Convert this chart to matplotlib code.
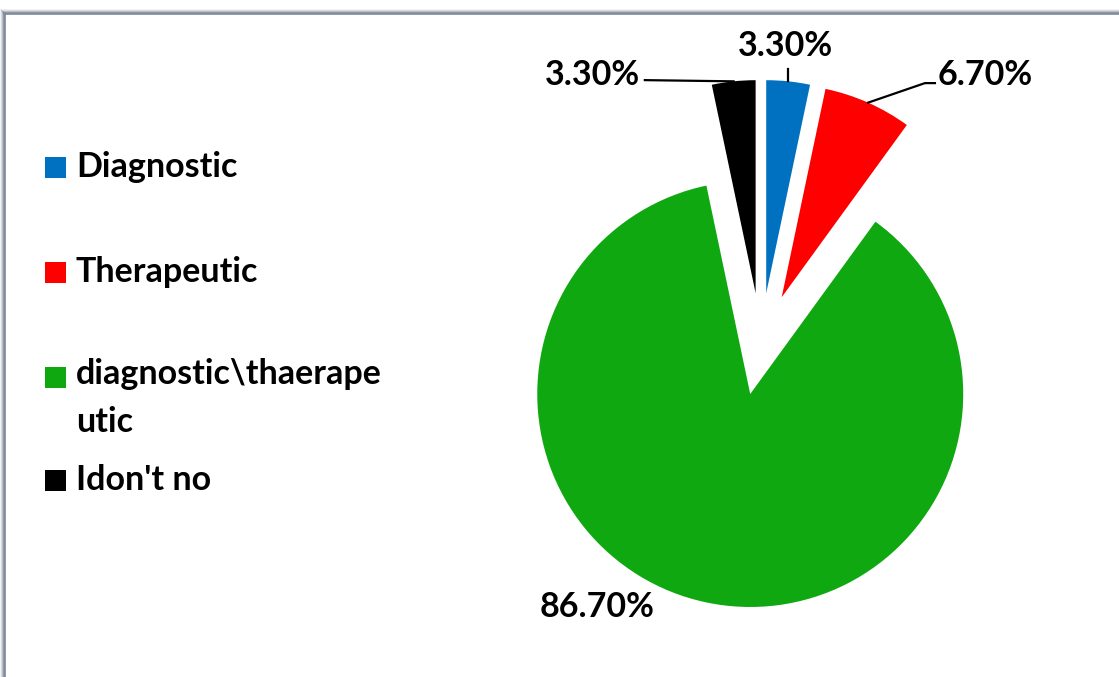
import matplotlib
matplotlib.use("Agg")
import matplotlib.pyplot as plt
from matplotlib.lines import Line2D
from matplotlib.patches import Rectangle
import numpy as np

categories = ["Diagnostic", "Therapeutic", "diagnostic\\thaerape\nutic", "Idon't no"]
values = [3.3, 6.7, 86.7, 3.3]
labels = ["3.30%", "6.70%", "86.70%", "3.30%"]
colors = ["#0070C0", "#FF0000", "#10A810", "#000000"]

plt.rcParams['font.family'] = ['Lato', 'DejaVu Sans']
plt.rcParams['font.weight'] = 'bold'

fig = plt.figure(figsize=(11.19, 6.77), dpi=100)
fig.patch.set_facecolor("white")

# frame with soft shadow (left and top edges)
W, H = 1119.0, 677.0
for i, a in enumerate([0.12, 0.25, 0.5, 0.9, 1.0]):
    off = 4 - i
    x0 = (5 - off) / W
    y0 = 1 - (14 - off) / H
    c = "#7d8898"
    fig.add_artist(Line2D([x0, x0], [0, y0], color=c, lw=1.2, alpha=a))
    fig.add_artist(Line2D([x0, 1], [y0, y0], color=c, lw=1.2, alpha=a))

# pie axes placed so that the pie centre sits around (761, 344) px
ax = fig.add_axes([0.3945, 0.0199, 0.571, 0.9439])

wedges, _ = ax.pie(values, colors=colors, startangle=90, counterclock=False,
                   explode=[0.24] * 4, radius=1.0,
                   wedgeprops=dict(linewidth=0))
ax.set_xlim(-1.5, 1.5)
ax.set_ylim(-1.5, 1.5)
ax.set_aspect("equal")
ax.axis("off")


def edge_mid(w):
    ang = np.deg2rad((w.theta1 + w.theta2) / 2)
    cx, cy = w.center
    return cx + w.r * np.cos(ang), cy + w.r * np.sin(ang)


fs = 24.5
# Diagnostic (blue): vertical leader, label above
bx, by = edge_mid(wedges[0])
ax.plot([bx, bx], [by, 1.291], color="black", lw=1.6, clip_on=False)
ax.text(0.113, 1.40, labels[0], ha="center", va="center", fontsize=fs,
        fontweight="bold", clip_on=False)

# Therapeutic (red): bent leader, label right
rx, ry = edge_mid(wedges[1])
ax.plot([rx, 0.770, 0.817], [ry, 1.225, 1.225], color="black", lw=1.6, clip_on=False)
ax.text(0.83, 1.263, labels[1], ha="left", va="center", fontsize=fs,
        fontweight="bold", clip_on=False)

# green
ax.text(-0.770, -1.235, labels[2], ha="center", va="center", fontsize=fs,
        fontweight="bold", clip_on=False)

# Idon't no (black): leader to the left
kx, ky = edge_mid(wedges[3])
ax.plot([kx, -0.545], [ky, 1.239], color="black", lw=1.6, clip_on=False)
ax.text(-0.568, 1.263, labels[3], ha="right", va="center", fontsize=fs,
        fontweight="bold", clip_on=False)

# legend drawn by hand
legend_y = [167, 272, 377, 480]
for name, col, py in zip(categories, colors, legend_y):
    fig.add_artist(Rectangle((45 / W, 1 - (py + 11) / H), 21 / W, 21 / H,
                             transform=fig.transFigure, color=col, lw=0))
    if "\n" in name:
        fig.text(76 / W, 1 - (py - 19) / H, name, ha="left", va="top",
                 fontsize=fs, fontweight="bold", linespacing=1.6)
    else:
        fig.text(76 / W, 1 - py / H, name, ha="left", va="center",
                 fontsize=fs, fontweight="bold")

fig.savefig("out.png", dpi=100)
